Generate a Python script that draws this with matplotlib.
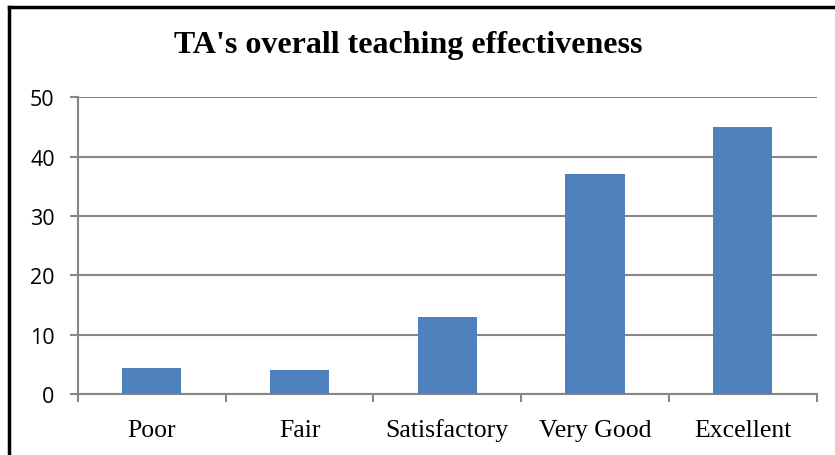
import matplotlib
matplotlib.use("Agg")
import matplotlib.pyplot as plt
from matplotlib.lines import Line2D

categories = ["Poor", "Fair", "Satisfactory", "Very Good", "Excellent"]
values = [4.3, 4.0, 13.0, 37.0, 45.0]
yticks = [0, 10, 20, 30, 40, 50]
title = "TA's overall teaching effectiveness"

fig = plt.figure(figsize=(8.35, 4.56), dpi=100)
ax = fig.add_axes([0.0934, 0.1338, 0.978 - 0.0934, 0.7844 - 0.1338])

x = list(range(len(categories)))
ax.bar(x, values, width=0.40, color="#4F81BD", zorder=3)

grid_c = "#878787"
ax.set_ylim(0, 50)
ax.set_xlim(-0.5, len(categories) - 0.5)
ax.set_yticks(yticks)
ax.set_yticklabels([str(v) for v in yticks], fontfamily="Open Sans", fontsize=15.5)
ax.yaxis.grid(True, color=grid_c, linewidth=1.5, zorder=0)
ax.tick_params(axis="y", length=5.8, width=1.5, color=grid_c, pad=11)

ax.set_xticks([i - 0.5 for i in range(len(categories) + 1)])
ax.set_xticklabels([])
ax.tick_params(axis="x", which="major", length=5.8, width=1.5, color=grid_c)
ax.set_xticks(x, minor=True)
ax.set_xticklabels(categories, minor=True, fontfamily="Liberation Serif", fontsize=18.5,
                   va="baseline")
ax.tick_params(axis="x", which="minor", length=0, pad=30)

for s in ["top", "right"]:
    ax.spines[s].set_visible(False)
for s in ["left", "bottom"]:
    ax.spines[s].set_color(grid_c)
    ax.spines[s].set_linewidth(1.5)

fig.text(408 / 835, 1 - 45 / 456, title, ha="center", va="center",
         fontfamily="Liberation Serif", fontweight="bold", fontsize=23)

# outer frame (left and top visible)
fig.add_artist(Line2D([9 / 835, 9 / 835], [0, 1 - 8 / 456], color="black", linewidth=2.5,
                      transform=fig.transFigure))
fig.add_artist(Line2D([9 / 835, 1], [1 - 8 / 456, 1 - 8 / 456], color="black", linewidth=2.5,
                      transform=fig.transFigure))

fig.savefig("out.png", dpi=100)
